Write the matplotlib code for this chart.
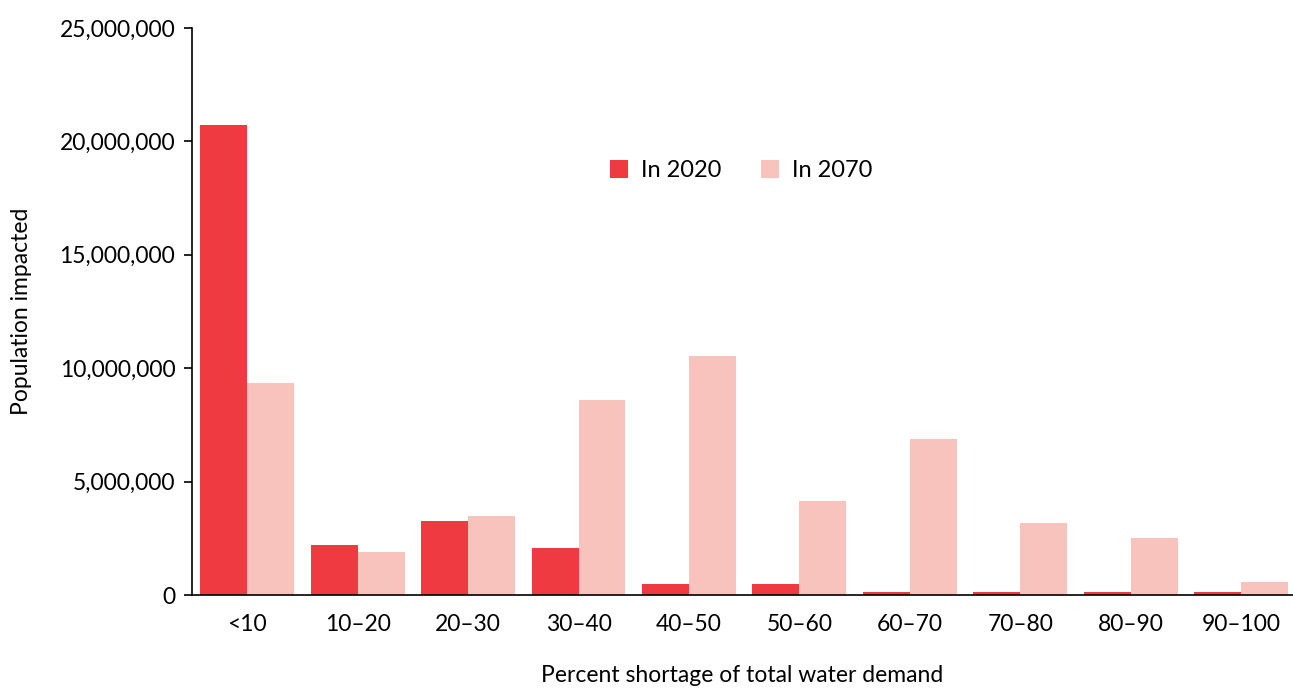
import numpy as np
import matplotlib
matplotlib.use("Agg")
import matplotlib.pyplot as plt
from matplotlib.ticker import FuncFormatter

plt.rcParams['font.family'] = ['Lato', 'DejaVu Sans']

# Data
categories = ["<10", "10\u201320", "20\u201330", "30\u201340", "40\u201350",
              "50\u201360", "60\u201370", "70\u201380", "80\u201390", "90\u2013100"]
pop_2020 = [20720000, 2200000, 3250000, 2070000, 480000,
            480000, 120000, 120000, 120000, 120000]
pop_2070 = [9350000, 1900000, 3480000, 8600000, 10540000,
            4140000, 6880000, 3170000, 2510000, 570000]

RED = "#EF3A42"
PINK = "#F8C3BC"

fig = plt.figure(figsize=(12.93, 6.89), dpi=100)
ax = fig.add_axes([0.1485, 0.1364, 0.8515, 0.823])

x = np.arange(len(categories))
w = 0.425
ax.bar(x - w / 2, pop_2020, width=w, color=RED, label="In 2020")
ax.bar(x + w / 2, pop_2070, width=w, color=PINK, label="In 2070")

ax.set_xlim(-0.5, 9.47)
ax.set_ylim(0, 25000000)
ax.set_yticks(np.arange(0, 25000001, 5000000))
ax.yaxis.set_major_formatter(FuncFormatter(lambda v, p: f"{int(v):,}"))
ax.set_xticks(x)
ax.set_xticklabels(categories)

ax.spines['top'].set_visible(False)
ax.spines['right'].set_visible(False)
ax.spines['left'].set_linewidth(1.2)
ax.spines['bottom'].set_linewidth(1.2)
ax.tick_params(axis='x', length=0, pad=14, labelsize=16.5)
ax.tick_params(axis='y', length=6, width=1.2, labelsize=16.5, pad=6)

ax.set_xlabel("Percent shortage of total water demand", fontsize=16.5, labelpad=21)
ax.set_ylabel("Population impacted", fontsize=16.5, labelpad=20)

ax.legend(loc="center", bbox_to_anchor=(0.499, 0.748), ncol=2, frameon=False,
          fontsize=17, handlelength=0.75, handleheight=0.75, handletextpad=0.55,
          columnspacing=1.7)

fig.savefig("out.png", dpi=100)
